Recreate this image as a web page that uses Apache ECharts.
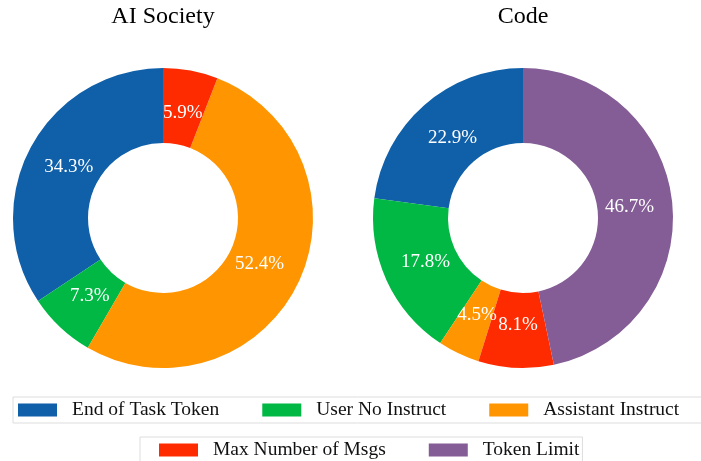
<!DOCTYPE html>
<html>
<head>
<meta charset="utf-8">
<script src="https://cdn.jsdelivr.net/npm/echarts@6/dist/echarts.min.js"></script>
<style>
  html, body { margin: 0; padding: 0; background: #fff; }
  #chart { width: 701px; height: 461px; }
</style>
</head>
<body>
<div id="chart"></div>
<script>
const categories = ['End of Task Token', 'User No Instruct', 'Assistant Instruct', 'Max Number of Msgs', 'Token Limit'];
const colors = ['#0f5fa9', '#00b843', '#ff9500', '#ff2b00', '#845c96'];
const aiSocietyValues = [34.3, 7.3, 52.4, 5.9, 0];
const codeValues = [22.9, 17.8, 4.5, 8.1, 46.7];

const serif = '"Liberation Serif", "DejaVu Serif", serif';
const centerY = 218;
const labelRadius = 107;

function buildData(values) {
    var out = [];
    for (var i = 0; i < categories.length; i++) {
        out.push({
            name: categories[i],
            value: values[i],
            itemStyle: { color: colors[i] }
        });
    }
    return out;
}

// place the percentage labels a bit nearer to the hole, like matplotlib's pctdistance
function labelPlacer(values, cx) {
    var total = values.reduce(function (a, b) { return a + b; }, 0);
    return function (params) {
        var cum = 0;
        for (var i = 0; i < params.dataIndex; i++) cum += values[i];
        var ang = (90 + (cum + values[params.dataIndex] / 2) / total * 360) * Math.PI / 180;
        return {
            x: cx + labelRadius * Math.cos(ang),
            y: centerY - labelRadius * Math.sin(ang),
            align: 'center',
            verticalAlign: 'middle'
        };
    };
}

function pieSeries(name, values, cx) {
    return {
        name: name,
        type: 'pie',
        center: [cx, centerY],
        radius: [75, 150],
        startAngle: 90,
        clockwise: false,
        avoidLabelOverlap: false,
        label: {
            show: true,
            position: 'inside',
            color: '#fff',
            fontFamily: serif,
            fontSize: 19,
            formatter: function (p) {
                return p.value > 0 ? p.value.toFixed(1) + '%' : '';
            }
        },
        labelLayout: labelPlacer(values, cx),
        labelLine: { show: false },
        emphasis: { disabled: true },
        data: buildData(values)
    };
}

var chartDom = document.getElementById('chart');
var myChart = echarts.init(chartDom, null, { renderer: 'canvas' });

const legendText = { fontFamily: serif, fontSize: 19.5, lineHeight: 19, color: '#111', padding: [0, 0, 0, 10] };
const titleText = { fontFamily: serif, fontWeight: 'normal', fontSize: 24, color: '#000' };

var option = {
    animation: false,
    title: [
        { text: 'AI Society', left: 158, top: 0, textAlign: 'center', textStyle: titleText },
        { text: 'Code', left: 518, top: 0, textAlign: 'center', textStyle: titleText }
    ],
    legend: [
        {
            data: categories.slice(0, 3),
            left: 13, top: 397, width: 900,
            icon: 'rect',
            itemWidth: 39, itemHeight: 13, itemGap: 43,
            padding: [3, 40, 3, 5],
            borderColor: '#ddd', borderWidth: 1,
            selectedMode: false,
            textStyle: legendText
        },
        {
            data: categories.slice(3),
            left: 140, top: 437, width: 900,
            icon: 'rect',
            itemWidth: 39, itemHeight: 13, itemGap: 43,
            padding: [3, 3, 3, 19],
            borderColor: '#ddd', borderWidth: 1,
            selectedMode: false,
            textStyle: legendText
        }
    ],
    series: [
        pieSeries('AI Society', aiSocietyValues, 163),
        pieSeries('Code', codeValues, 523)
    ]
};
option && myChart.setOption(option);
</script>
</body>
</html>
